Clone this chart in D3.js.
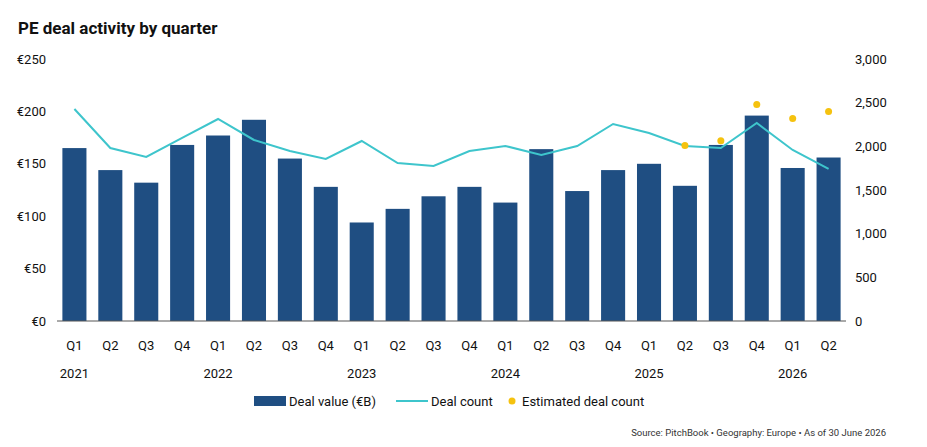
<!DOCTYPE html>
<html><head><meta charset="utf-8">
<script src="https://cdn.jsdelivr.net/npm/d3@7"></script>
<style>body{margin:0;background:#fff;font-family:Roboto,"Noto Sans",sans-serif}</style>
</head><body><svg id="chart" width="927" height="447"></svg>
<script>
const quarters = ["Q1","Q2","Q3","Q4","Q1","Q2","Q3","Q4","Q1","Q2","Q3","Q4","Q1","Q2","Q3","Q4","Q1","Q2","Q3","Q4","Q1","Q2"];
const years = ["2021","2022","2023","2024","2025","2026"];
const dealValue = [165,144,132,168,177,192,155,128,94,107,119,128,113,164,124,144,150,129,168,196,146,156];
const dealCount = [2428,1981,1878,2096,2313,2073,1947,1855,2061,1809,1775,1947,2004,1901,2004,2256,2153,2004,1981,2267,1958,1741];
const estIdx = [17,18,19,20,21];
const estCount = [2010,2065,2480,2320,2400];
const leftTicks = [0,50,100,150,200,250];
const rightTicks = [0,500,1000,1500,2000,2500,3000];

const svg = d3.select("#chart");
const plotTop = 59, plotBottom = 321, plotLeft = 57, plotRight = 846;
const idx = d3.range(quarters.length);
const x = d3.scaleBand().domain(idx).range([plotLeft, plotRight]).paddingInner(0.33).paddingOuter(0.15);
const yL = d3.scaleLinear().domain([0,250]).range([plotBottom, plotTop]);
const yR = d3.scaleLinear().domain([0,3000]).range([plotBottom, plotTop]);

svg.append("text").attr("x",18).attr("y",34).attr("font-size",17).attr("font-weight",700).attr("fill","#111").text("PE deal activity by quarter");

const axL = svg.append("g").attr("transform",`translate(${plotLeft-8},0)`)
  .call(d3.axisLeft(yL).tickValues(leftTicks).tickSize(0).tickFormat(d=>"€"+d));
const axR = svg.append("g").attr("transform",`translate(${plotRight+6},0)`)
  .call(d3.axisRight(yR).tickValues(rightTicks).tickSize(0).tickFormat(d3.format(",")));
[axL,axR].forEach(a=>{a.select(".domain").remove();a.selectAll("text").attr("font-size",13).attr("fill","#111").attr("font-family","Roboto");});

svg.append("g").selectAll("rect").data(idx).join("rect")
  .attr("x",i=>x(i)).attr("width",x.bandwidth())
  .attr("y",i=>yL(dealValue[i])).attr("height",i=>plotBottom-yL(dealValue[i]))
  .attr("fill","#1f4e82");

svg.append("line").attr("x1",plotLeft).attr("x2",plotRight).attr("y1",plotBottom).attr("y2",plotBottom).attr("stroke","#555").attr("stroke-width",1);

const cx = i=>x(i)+x.bandwidth()/2;
svg.append("path").datum(idx)
  .attr("d",d3.line().x(cx).y(i=>yR(dealCount[i])))
  .attr("fill","none").attr("stroke","#3ec5cc").attr("stroke-width",2);

svg.append("g").selectAll("circle").data(estIdx).join("circle")
  .attr("cx",d=>cx(d)).attr("cy",(d,j)=>yR(estCount[j])).attr("r",3.5).attr("fill","#f5c20f");

svg.append("g").selectAll("text").data(idx).join("text")
  .attr("x",cx).attr("y",350).attr("text-anchor","middle").attr("font-size",13).attr("fill","#111").text(i=>quarters[i]);
svg.append("g").selectAll("text").data(years).join("text")
  .attr("x",(d,j)=>cx(j*4)).attr("y",378).attr("text-anchor","middle").attr("font-size",13).attr("fill","#111").text(d=>d);

const lg = svg.append("g").attr("font-size",13).attr("fill","#111");
lg.append("rect").attr("x",254).attr("y",396).attr("width",32).attr("height",10).attr("fill","#1f4e82");
lg.append("text").attr("x",289).attr("y",406).text("Deal value (€B)");
lg.append("line").attr("x1",396).attr("x2",428).attr("y1",401).attr("y2",401).attr("stroke","#3ec5cc").attr("stroke-width",2);
lg.append("text").attr("x",431).attr("y",406).text("Deal count");
lg.append("circle").attr("cx",512).attr("cy",401).attr("r",3.5).attr("fill","#f5c20f");
lg.append("text").attr("x",522).attr("y",406).text("Estimated deal count");

svg.append("text").attr("x",886).attr("y",436).attr("text-anchor","end").attr("font-size",9.5).attr("fill","#333")
  .text("Source: PitchBook  •  Geography: Europe  •  As of 30 June 2026");
</script></body></html>
